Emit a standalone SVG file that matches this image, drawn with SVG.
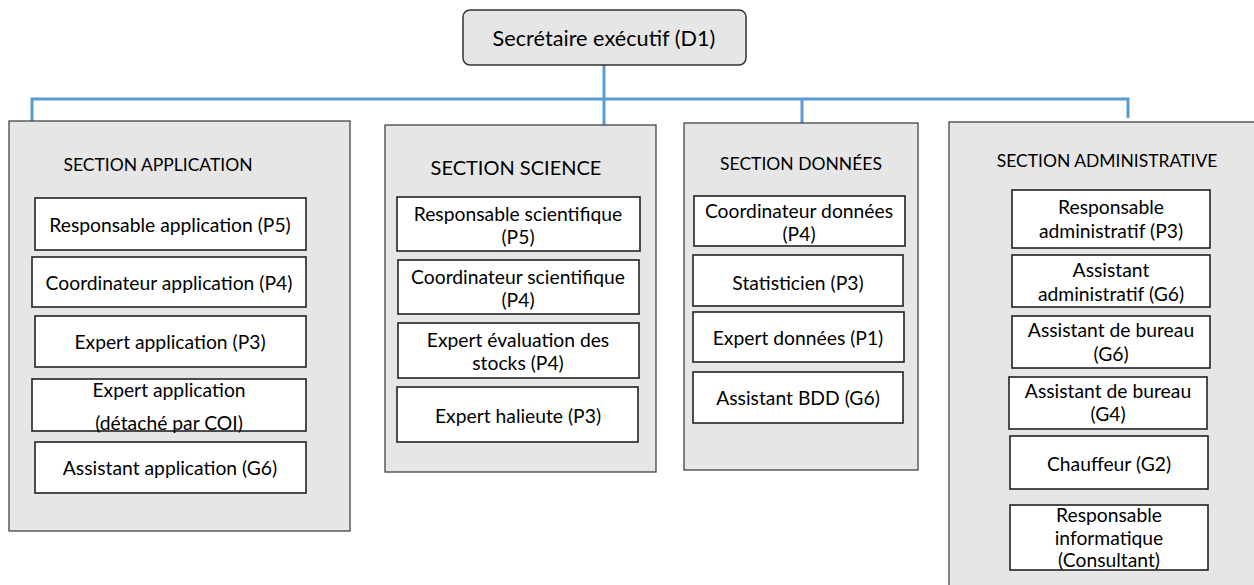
<svg xmlns="http://www.w3.org/2000/svg" width="1254" height="585" viewBox="0 0 1254 585">
<style>
text{font-family:Lato,"Open Sans","Liberation Sans",sans-serif;fill:#000;text-anchor:middle;dominant-baseline:central}
.sec{fill:#e6e6e6;stroke:#444;stroke-width:1.3}
.item{fill:#fff;stroke:#222;stroke-width:1.6}
.t{font-size:19.3px}
.st{font-size:17.5px}
.conn{fill:none;stroke:#5b9bd5;stroke-width:3}
</style>
<rect width="1254" height="585" fill="#fff"/>
<g id="connectors">
<path class="conn" d="M604,65 V125"/>
<path class="conn" d="M32,122 V99 H1128 V118"/>
<path class="conn" d="M802,99 V123"/>
</g>
<g id="top">
<rect x="463" y="10" width="283" height="55" rx="7" fill="#e6e6e6" stroke="#333" stroke-width="1.5"/>
<text x="604" y="38" style="font-size:21.7px">Secrétaire exécutif (D1)</text>
</g>
<g id="section-application">
<rect class="sec" x="9" y="121" width="341" height="410"/>
<text class="st" x="158" y="164">SECTION APPLICATION</text>
</g>
<g id="app-1"><rect class="item" x="35" y="198" width="271" height="52"/><text class="t" x="170" y="224">Responsable application (P5)</text></g>
<g id="app-2"><rect class="item" x="32" y="257" width="274" height="50"/><text class="t" x="169" y="282">Coordinateur application (P4)</text></g>
<g id="app-3"><rect class="item" x="35" y="316" width="271" height="51"/><text class="t" x="170" y="341">Expert application (P3)</text></g>
<g id="app-4"><rect class="item" x="32" y="379" width="274" height="52"/><text class="t" x="169" y="389">Expert application</text><text class="t" x="169" y="422">(détaché par COI)</text></g>
<g id="app-5"><rect class="item" x="35" y="442" width="271" height="51"/><text class="t" x="170" y="467">Assistant application (G6)</text></g>

<g id="section-science">
<rect class="sec" x="385" y="125" width="271" height="347"/>
<text x="516" y="167" style="font-size:20px">SECTION SCIENCE</text>
</g>
<g id="sci-1"><rect class="item" x="397" y="197" width="243" height="54"/><text class="t" x="518" y="213">Responsable scientifique</text><text class="t" x="518" y="236">(P5)</text></g>
<g id="sci-2"><rect class="item" x="398" y="260" width="241" height="54"/><text class="t" x="518" y="276">Coordinateur scientifique</text><text class="t" x="518" y="299">(P4)</text></g>
<g id="sci-3"><rect class="item" x="398" y="323" width="241" height="55"/><text class="t" x="518" y="339">Expert évaluation des</text><text class="t" x="518" y="362">stocks (P4)</text></g>
<g id="sci-4"><rect class="item" x="397" y="387" width="241" height="55"/><text class="t" x="518" y="415">Expert halieute (P3)</text></g>

<g id="section-donnees">
<rect class="sec" x="684" y="123" width="234" height="347"/>
<text class="st" x="801" y="163">SECTION DONNÉES</text>
</g>
<g id="don-1"><rect class="item" x="694" y="196" width="211" height="50"/><text class="t" x="799" y="210">Coordinateur données</text><text class="t" x="799" y="233">(P4)</text></g>
<g id="don-2"><rect class="item" x="693" y="255" width="210" height="51"/><text class="t" x="798" y="282">Statisticien (P3)</text></g>
<g id="don-3"><rect class="item" x="693" y="312" width="211" height="50"/><text class="t" x="798" y="337">Expert données (P1)</text></g>
<g id="don-4"><rect class="item" x="693" y="372" width="210" height="51"/><text class="t" x="798" y="397">Assistant BDD (G6)</text></g>

<g id="section-administrative">
<rect class="sec" x="949" y="122" width="310" height="470"/>
<text class="st" x="1107" y="160">SECTION ADMINISTRATIVE</text>
</g>
<g id="adm-1"><rect class="item" x="1012" y="190" width="198" height="58"/><text class="t" x="1111" y="206">Responsable</text><text class="t" x="1111" y="230">administratif (P3)</text></g>
<g id="adm-2"><rect class="item" x="1012" y="255" width="198" height="52"/><text class="t" x="1111" y="269">Assistant</text><text class="t" x="1111" y="293">administratif (G6)</text></g>
<g id="adm-3"><rect class="item" x="1012" y="316" width="198" height="52"/><text class="t" x="1111" y="329">Assistant de bureau</text><text class="t" x="1111" y="353">(G6)</text></g>
<g id="adm-4"><rect class="item" x="1009" y="377" width="198" height="52"/><text class="t" x="1108" y="390">Assistant de bureau</text><text class="t" x="1108" y="413">(G4)</text></g>
<g id="adm-5"><rect class="item" x="1010" y="436" width="198" height="53"/><text class="t" x="1109" y="463">Chauffeur (G2)</text></g>
<g id="adm-6"><rect class="item" x="1010" y="505" width="198" height="65"/><text class="t" x="1109" y="514">Responsable</text><text class="t" x="1109" y="537">informatique</text><text class="t" x="1109" y="559">(Consultant)</text></g>
</svg>
